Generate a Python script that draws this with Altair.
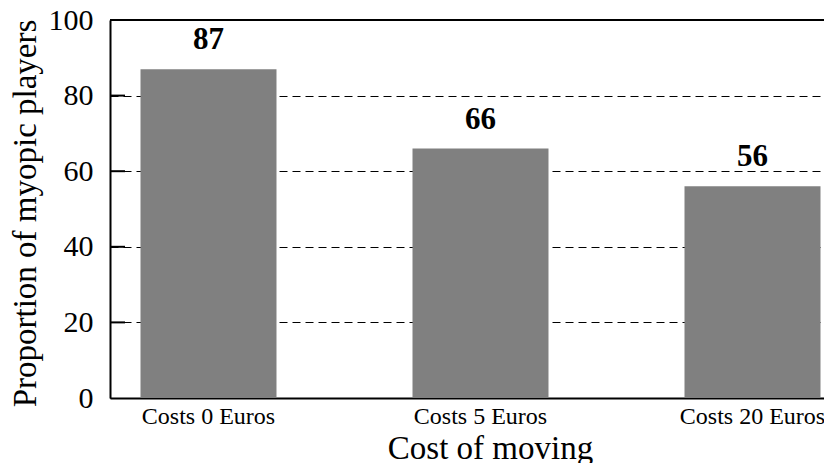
import altair as alt
import pandas as pd

categories = ["Costs 0 Euros", "Costs 5 Euros", "Costs 20 Euros"]
values = [87, 66, 56]
y_ticks = [0, 20, 40, 60, 80, 100]
inner_ticks = [20, 40, 60, 80]

FONT = "Liberation Serif"
W, H = 714, 378

df = pd.DataFrame({"cat": categories, "val": values})
ticks_df = pd.DataFrame({"t": inner_ticks})
top_df = pd.DataFrame({"t": [100]})

x_enc = alt.X(
    "cat:N",
    sort=categories,
    scale=alt.Scale(paddingInner=0.5, paddingOuter=0.0625, align=0.897),
    axis=alt.Axis(
        title="Cost of moving",
        labelAngle=0,
        labelFont=FONT,
        labelFontSize=24,
        labelColor="black",
        labelPadding=6,
        ticks=False,
        domainColor="black",
        domainWidth=2,
        titleFont=FONT,
        titleFontSize=33,
        titleFontWeight="normal",
        titleColor="black",
        titleBaseline="alphabetic",
        titleAlign="center",
        titleX=380,
        titleY=60,
    ),
)
y_scale = alt.Scale(domain=[0, 100], nice=False)
y_enc = alt.Y(
    "val:Q",
    scale=y_scale,
    axis=alt.Axis(
        values=y_ticks,
        title="Proportion of myopic players",
        grid=True,
        gridColor="black",
        gridDash=[8, 5],
        gridWidth=1,
        ticks=False,
        domainColor="black",
        domainWidth=2,
        labelFont=FONT,
        labelFontSize=30,
        labelColor="black",
        labelPadding=17,
        titleFont=FONT,
        titleFontSize=33,
        titleFontWeight="normal",
        titleColor="black",
        titleX=-85,
        titleY=H / 2 + 4,
        titleAngle=270,
        titleAlign="center",
        titleBaseline="middle",
    ),
)

bars = alt.Chart(df).mark_bar(color="#808080").encode(x=x_enc, y=y_enc)
labels = alt.Chart(df).mark_text(
    baseline="alphabetic", dy=-20, font=FONT, fontSize=31, fontWeight="bold", color="black"
).encode(x=alt.X("cat:N", sort=categories), y=alt.Y("val:Q"), text=alt.Text("val:Q"))

tick_marks = alt.Chart(ticks_df).mark_rule(color="black", strokeWidth=2).encode(
    y=alt.Y("t:Q", scale=y_scale), x=alt.value(0), x2=alt.value(15)
)
top_line = alt.Chart(top_df).mark_rule(color="black", strokeWidth=2).encode(
    y=alt.Y("t:Q", scale=y_scale), x=alt.value(0), x2=alt.value(W)
)

chart = (
    alt.layer(bars, labels, tick_marks, top_line)
    .properties(
        width=W,
        height=H,
        autosize=alt.AutoSizeParams(type="none"),
        padding={"left": 102, "top": 12, "right": 0, "bottom": 65},
    )
    .configure_view(stroke=None)
    .configure(background="white")
)

chart.save("out.html", embed_options={"renderer": "svg", "actions": False})
